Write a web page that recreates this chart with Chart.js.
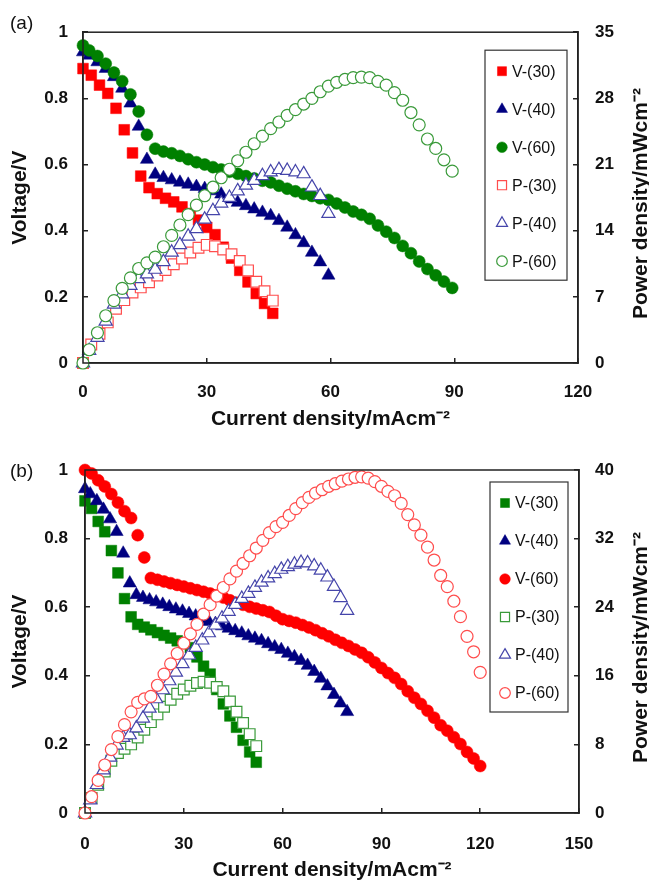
<!DOCTYPE html>
<html>
<head>
<meta charset="utf-8">
<script src="https://cdn.jsdelivr.net/npm/chart.js@4.4.1/dist/chart.umd.min.js"></script>
<style>
  body { margin: 0; background: #fff; }
  canvas { display: block; }
</style>
</head>
<body>
<canvas id="chartA" width="649" height="430"></canvas>
<canvas id="chartB" width="649" height="451"></canvas>
<script>
const FONT = '"Liberation Sans", Arial, sans-serif';

// axis ticks
const voltageTicks = [0, 0.2, 0.4, 0.6, 0.8, 1];
const aCurrentTicks = [0, 30, 60, 90, 120];
const aPowerTicks = [0, 7, 14, 21, 28, 35];
const bCurrentTicks = [0, 30, 60, 90, 120, 150];
const bPowerTicks = [0, 8, 16, 24, 32, 40];

const seriesLabels = ['V-(30)', 'V-(40)', 'V-(60)', 'P-(30)', 'P-(40)', 'P-(60)'];

// ---- panel (a) ----
const aCurrent30 = [0, 2, 4, 6, 8, 10, 12, 14, 16, 18, 20, 22, 24, 26, 28, 30, 32, 34, 36, 38, 40, 42, 44, 46];
const aVoltage30 = [0.89, 0.87, 0.84, 0.815, 0.77, 0.705, 0.635, 0.565, 0.53, 0.512, 0.498, 0.487, 0.472, 0.452, 0.432, 0.41, 0.388, 0.35, 0.317, 0.28, 0.245, 0.21, 0.18, 0.15];
const aPower30 = [0, 1.95, 3.1, 4.3, 5.75, 6.65, 7.45, 8.0, 8.55, 9.25, 9.85, 10.45, 11.05, 11.7, 12.2, 12.5, 12.35, 12.0, 11.5, 10.8, 9.8, 8.6, 7.6, 6.6];

const aCurrent40 = [0, 1.5, 3.5, 5.5, 7.5, 9.5, 11.5, 13.5, 15.5, 17.5, 19.5, 21.5, 23.5, 25.5, 27.5, 29.5, 31.5, 33.5, 35.5, 37.5, 39.5, 41.5, 43.5, 45.5, 47.5, 49.5, 51.5, 53.5, 55.5, 57.5, 59.5];
const aVoltage40 = [0.94, 0.93, 0.91, 0.89, 0.865, 0.83, 0.785, 0.715, 0.615, 0.57, 0.56, 0.553, 0.546, 0.54, 0.533, 0.527, 0.52, 0.51, 0.495, 0.485, 0.475, 0.465, 0.455, 0.445, 0.43, 0.41, 0.387, 0.363, 0.334, 0.305, 0.265];
const aPower40 = [0, 1.3, 2.7, 4.4, 6.2, 7.3, 8.2, 8.9, 9.4, 9.9, 10.7, 11.7, 12.5, 13.4, 14.2, 15.2, 16.1, 16.9, 17.5, 18.2, 18.8, 19.3, 19.8, 20.2, 20.45, 20.35, 20.2, 20.0, 18.6, 17.7, 15.8];

const aCurrent60 = [0, 1.5, 3.5, 5.5, 7.5, 9.5, 11.5, 13.5, 15.5, 17.5, 19.5, 21.5, 23.5, 25.5, 27.5, 29.5, 31.5, 33.5, 35.5, 37.5, 39.5, 41.5, 43.5, 45.5, 47.5, 49.5, 51.5, 53.5, 55.5, 57.5, 59.5, 61.5, 63.5, 65.5, 67.5, 69.5, 71.5, 73.5, 75.5, 77.5, 79.5, 81.5, 83.5, 85.5, 87.5, 89.5];
const aVoltage60 = [0.96, 0.945, 0.928, 0.905, 0.878, 0.852, 0.812, 0.76, 0.69, 0.648, 0.639, 0.634, 0.626, 0.616, 0.607, 0.6, 0.592, 0.585, 0.578, 0.572, 0.565, 0.558, 0.551, 0.546, 0.536, 0.527, 0.519, 0.511, 0.505, 0.498, 0.493, 0.482, 0.47, 0.458, 0.448, 0.436, 0.416, 0.397, 0.378, 0.354, 0.332, 0.307, 0.284, 0.265, 0.246, 0.227];
const aPower60 = [0, 1.4, 3.2, 5.0, 6.6, 7.9, 9.0, 10.0, 10.6, 11.2, 12.3, 13.5, 14.6, 15.7, 16.7, 17.7, 18.6, 19.6, 20.5, 21.4, 22.3, 23.2, 24.0, 24.8, 25.5, 26.2, 26.8, 27.4, 28.0, 28.7, 29.3, 29.7, 30.0, 30.2, 30.25, 30.2, 29.8, 29.4, 28.6, 27.8, 26.5, 25.2, 23.7, 22.7, 21.5, 20.3];

// ---- panel (b) ----
const bCurrent30 = [0, 2, 4, 6, 8, 10, 12, 14, 16, 18, 20, 22, 24, 26, 28, 30, 32, 34, 36, 38, 40, 42, 44, 46, 48, 50, 52];
const bVoltage30 = [0.91, 0.888, 0.85, 0.82, 0.765, 0.70, 0.625, 0.572, 0.55, 0.542, 0.534, 0.526, 0.518, 0.51, 0.502, 0.495, 0.482, 0.455, 0.428, 0.405, 0.36, 0.318, 0.283, 0.25, 0.212, 0.178, 0.148];
const bPower30 = [0, 1.75, 3.3, 4.85, 6.1, 7.0, 7.5, 8.0, 8.8, 9.7, 10.6, 11.5, 12.4, 13.2, 13.9, 14.4, 14.85, 15.15, 15.3, 15.2, 14.7, 14.2, 13.0, 11.8, 10.5, 9.2, 7.8];

const bCurrent40 = [0, 1.6, 3.6, 5.6, 7.6, 9.6, 11.6, 13.6, 15.6, 17.6, 19.6, 21.6, 23.6, 25.6, 27.6, 29.6, 31.6, 33.6, 35.6, 37.6, 39.6, 41.6, 43.6, 45.6, 47.6, 49.6, 51.6, 53.6, 55.6, 57.6, 59.6, 61.6, 63.6, 65.6, 67.6, 69.6, 71.6, 73.6, 75.6, 77.6, 79.6];
const bVoltage40 = [0.945, 0.93, 0.91, 0.885, 0.857, 0.82, 0.757, 0.67, 0.636, 0.628, 0.621, 0.615, 0.608, 0.601, 0.594, 0.588, 0.581, 0.574, 0.566, 0.558, 0.552, 0.545, 0.538, 0.531, 0.524, 0.516, 0.509, 0.502, 0.493, 0.484, 0.476, 0.465, 0.455, 0.444, 0.43, 0.412, 0.392, 0.37, 0.345, 0.32, 0.295];
const bPower40 = [0, 1.5, 3.3, 5.0, 6.5, 7.9, 8.8, 9.1, 9.9, 11.05, 12.2, 13.3, 14.35, 15.4, 16.4, 17.4, 18.4, 19.3, 20.15, 21.0, 21.9, 22.7, 23.5, 24.3, 25.0, 25.6, 26.3, 26.9, 27.4, 27.9, 28.4, 28.7, 29.0, 29.2, 29.15, 28.8, 28.3, 27.5, 26.4, 25.1, 23.6];

const bCurrent60 = [0, 2, 4, 6, 8, 10, 12, 14, 16, 18, 20, 22, 24, 26, 28, 30, 32, 34, 36, 38, 40, 42, 44, 46, 48, 50, 52, 54, 56, 58, 60, 62, 64, 66, 68, 70, 72, 74, 76, 78, 80, 82, 84, 86, 88, 90, 92, 94, 96, 98, 100, 102, 104, 106, 108, 110, 112, 114, 116, 118, 120];
const bVoltage60 = [1.0, 0.99, 0.97, 0.952, 0.93, 0.905, 0.88, 0.86, 0.81, 0.745, 0.685, 0.68, 0.675, 0.67, 0.665, 0.66, 0.655, 0.65, 0.645, 0.64, 0.635, 0.628, 0.62, 0.613, 0.607, 0.601, 0.596, 0.591, 0.586, 0.575, 0.565, 0.56, 0.555, 0.548, 0.541, 0.533, 0.524, 0.515, 0.505, 0.496, 0.487, 0.477, 0.467, 0.454, 0.439, 0.423, 0.408, 0.394, 0.376, 0.355, 0.336, 0.318, 0.298, 0.278, 0.256, 0.24, 0.221, 0.201, 0.178, 0.159, 0.137];
const bPower60 = [0, 1.9, 3.8, 5.6, 7.4, 8.9, 10.3, 11.8, 12.9, 13.3, 13.6, 14.9, 16.2, 17.4, 18.6, 19.8, 20.9, 22.0, 23.2, 24.3, 25.3, 26.3, 27.3, 28.2, 29.1, 30.0, 30.9, 31.8, 32.7, 33.4, 33.9, 34.7, 35.5, 36.2, 36.8, 37.3, 37.7, 38.1, 38.4, 38.7, 38.95, 39.15, 39.2, 39.05, 38.65, 38.1, 37.5, 37.0, 36.1, 34.8, 33.6, 32.4, 31.0, 29.5, 27.7, 26.4, 24.7, 22.9, 20.6, 18.8, 16.4];

const RED = '#ff0000';
const NAVY = '#000080';
const GREEN = '#008000';

function points(xs, ys) {
  return xs.map((x, i) => ({ x: x, y: ys[i] }));
}

// marker style: filled voltage marks sit under the open power marks
function marker(shape, color, filled, order) {
  return {
    pointStyle: shape,
    pointRadius: shape === 'circle' ? 6 : 7.6,
    pointBackgroundColor: filled ? color : '#ffffff',
    pointBorderColor: color,
    pointBorderWidth: filled ? 0.5 : 1.2,
    order: order
  };
}

function series(label, xs, ys, axis, style) {
  return Object.assign({
    label: label,
    data: points(xs, ys),
    yAxisID: axis,
    clip: false
  }, style);
}

// "1" and "0" rather than "1.0" / "0.0"
function plainNumber(value) {
  return String(Number(value.toFixed(2)));
}

const framePlugin = {
  id: 'frame',
  afterDraw(chart, args, opts) {
    const { ctx, chartArea: area } = chart;
    ctx.save();

    // box around the plot area
    ctx.strokeStyle = '#222';
    ctx.lineWidth = 1.5;
    ctx.strokeRect(area.left, area.top, area.right - area.left, area.bottom - area.top);

    // panel label
    ctx.fillStyle = '#111';
    ctx.font = '19px ' + FONT;
    ctx.textAlign = 'left';
    ctx.textBaseline = 'middle';
    ctx.fillText(opts.label, 10, opts.labelY);

    // right axis title, reading bottom to top
    ctx.save();
    ctx.translate(641, (area.top + area.bottom) / 2 + 6);
    ctx.rotate(-Math.PI / 2);
    ctx.font = 'bold 21px ' + FONT;
    ctx.textAlign = 'center';
    ctx.fillText('Power density/mWcm\u207B\u00B2', 0, 0);
    ctx.restore();

    // legend box inside the plot area
    const boxW = opts.legendWidth;
    const boxH = 230;
    const boxX = area.right - 11 - boxW;
    const boxY = area.top + opts.legendTop;
    ctx.fillStyle = '#ffffff';
    ctx.fillRect(boxX, boxY, boxW, boxH);
    ctx.strokeStyle = '#333';
    ctx.lineWidth = 1.2;
    ctx.strokeRect(boxX, boxY, boxW, boxH);

    ctx.font = '16px ' + FONT;
    chart.data.datasets.forEach((ds, i) => {
      const y = boxY + 21 + i * 38;
      const mx = boxX + opts.markerOffset;
      ctx.fillStyle = ds.pointBackgroundColor;
      ctx.strokeStyle = ds.pointBorderColor;
      ctx.lineWidth = ds.pointBorderWidth;
      Chart.helpers.drawPoint(ctx, {
        pointStyle: ds.pointStyle,
        radius: ds.pointStyle === 'circle' ? 5.3 : 6.4,
        rotation: 0,
        borderWidth: ds.pointBorderWidth
      }, mx, y);
      ctx.fillStyle = '#111';
      ctx.fillText(ds.label, mx + 10, y + 1);
    });

    ctx.restore();
  }
};

Chart.defaults.font.family = FONT;
Chart.defaults.color = '#111';

function buildChart(canvasId, cfg) {
  const axisLine = { color: '#222', width: 1.5 };
  const tickMarks = { drawOnChartArea: false, tickLength: -5, color: '#222', lineWidth: 1.5 };
  const tickFont = { size: 17, weight: 'bold' };

  return new Chart(document.getElementById(canvasId), {
    type: 'scatter',
    data: { datasets: cfg.datasets },
    options: {
      responsive: false,
      animation: false,
      events: [],
      layout: { padding: { top: cfg.top, left: 0, right: 0, bottom: 0 } },
      scales: {
        x: {
          type: 'linear',
          min: cfg.xTicks[0],
          max: cfg.xTicks[cfg.xTicks.length - 1],
          afterFit: scale => { scale.height = cfg.xHeight; },
          ticks: { stepSize: cfg.xTicks[1] - cfg.xTicks[0], padding: cfg.xPad, font: tickFont, callback: plainNumber },
          grid: tickMarks,
          border: axisLine,
          title: {
            display: true,
            text: 'Current density/mAcm\u207B\u00B2',
            font: { size: 21, weight: 'bold' },
            padding: { top: 0, bottom: -2 }
          }
        },
        y: {
          position: 'left',
          min: voltageTicks[0],
          max: voltageTicks[voltageTicks.length - 1],
          afterFit: scale => { scale.width = cfg.leftWidth; },
          ticks: { stepSize: voltageTicks[1] - voltageTicks[0], padding: cfg.leftPad, font: tickFont, callback: plainNumber },
          grid: tickMarks,
          border: axisLine,
          title: {
            display: true,
            text: 'Voltage/V',
            font: { size: 21, weight: 'bold' },
            padding: { top: 8, bottom: 0 }
          }
        },
        y2: {
          position: 'right',
          min: cfg.powerTicks[0],
          max: cfg.powerTicks[cfg.powerTicks.length - 1],
          afterFit: scale => { scale.width = cfg.rightWidth; },
          ticks: { stepSize: cfg.powerTicks[1] - cfg.powerTicks[0], padding: cfg.rightPad, font: tickFont, callback: plainNumber },
          grid: tickMarks,
          border: axisLine
        }
      },
      plugins: {
        legend: { display: false },
        tooltip: { enabled: false },
        frame: cfg.frame
      }
    },
    plugins: [framePlugin]
  });
}

buildChart('chartA', {
  top: 19, xHeight: 67, leftWidth: 83, rightWidth: 71,
  xPad: 24, leftPad: 20, rightPad: 22,
  xTicks: aCurrentTicks, powerTicks: aPowerTicks,
  frame: { label: '(a)', labelY: 24, legendTop: 18, legendWidth: 82, markerOffset: 17 },
  datasets: [
    series(seriesLabels[0], aCurrent30, aVoltage30, 'y', marker('rect', RED, true, 6)),
    series(seriesLabels[1], aCurrent40, aVoltage40, 'y', marker('triangle', NAVY, true, 5)),
    series(seriesLabels[2], aCurrent60, aVoltage60, 'y', marker('circle', GREEN, true, 4)),
    series(seriesLabels[3], aCurrent30, aPower30, 'y2', marker('rect', '#ff4d4d', false, 3)),
    series(seriesLabels[4], aCurrent40, aPower40, 'y2', marker('triangle', '#4545aa', false, 2)),
    series(seriesLabels[5], aCurrent60, aPower60, 'y2', marker('circle', '#3a9a3a', false, 1))
  ]
});

buildChart('chartB', {
  top: 40, xHeight: 68, leftWidth: 85, rightWidth: 70,
  xPad: 26, leftPad: 22, rightPad: 21,
  xTicks: bCurrentTicks, powerTicks: bPowerTicks,
  frame: { label: '(b)', labelY: 42, legendTop: 12, legendWidth: 78, markerOffset: 15 },
  datasets: [
    series(seriesLabels[0], bCurrent30, bVoltage30, 'y', marker('rect', GREEN, true, 6)),
    series(seriesLabels[1], bCurrent40, bVoltage40, 'y', marker('triangle', NAVY, true, 5)),
    series(seriesLabels[2], bCurrent60, bVoltage60, 'y', marker('circle', RED, true, 4)),
    series(seriesLabels[3], bCurrent30, bPower30, 'y2', marker('rect', '#3a9a3a', false, 3)),
    series(seriesLabels[4], bCurrent40, bPower40, 'y2', marker('triangle', '#4545aa', false, 2)),
    series(seriesLabels[5], bCurrent60, bPower60, 'y2', marker('circle', '#ff4d4d', false, 1))
  ]
});
</script>
</body>
</html>
